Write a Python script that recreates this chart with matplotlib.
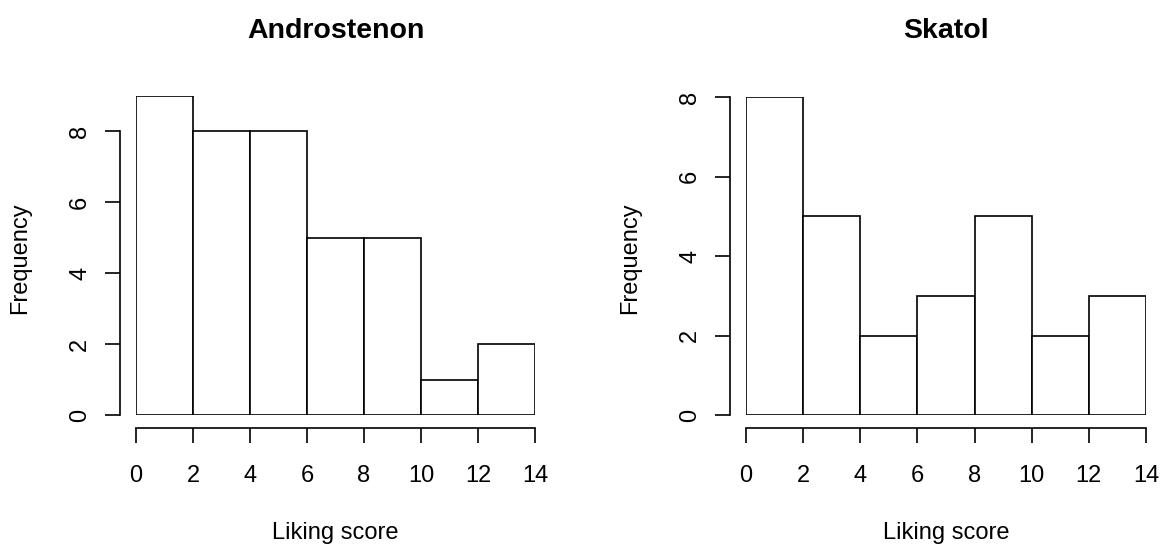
import numpy as np
import matplotlib.pyplot as plt

plt.rcParams['font.family'] = ['Liberation Sans', 'DejaVu Sans']

# histogram data
bins = [0, 2, 4, 6, 8, 10, 12, 14]
andro_counts = [9, 8, 8, 5, 5, 1, 2]
skatol_counts = [8, 5, 2, 3, 5, 2, 3]
titles = ['Androstenon', 'Skatol']
xticks = [0, 2, 4, 6, 8, 10, 12, 14]
yticks = [0, 2, 4, 6, 8]

W, H = 1162, 547
fig = plt.figure(figsize=(W / 100, H / 100), dpi=100)

def px_axes(x0, x1, ytop, ybot):
    return fig.add_axes([x0 / W, 1 - ybot / H, (x1 - x0) / W, (ybot - ytop) / H])

panels = [
    (px_axes(136, 535, 95.5, 415), andro_counts, 9, 136, 535),
    (px_axes(746, 1146, 97, 415), skatol_counts, 8, 746, 1146),
]

for (ax, counts, ymax, x0, x1), title in zip(panels, titles):
    edges = np.array(bins)
    ax.bar(edges[:-1], counts, width=np.diff(edges), align='edge',
           facecolor='white', edgecolor='black', linewidth=1.2)
    ax.set_xlim(bins[0], bins[-1])
    ax.set_ylim(0, ymax)
    for s in ['top', 'right']:
        ax.spines[s].set_visible(False)
    ax.spines['left'].set_position(('outward', 11.5))
    ax.spines['bottom'].set_position(('outward', 9.4))
    ax.spines['left'].set_bounds(0, 8)
    ax.spines['bottom'].set_bounds(0, 14)
    ax.spines['left'].set_linewidth(1.2)
    ax.spines['bottom'].set_linewidth(1.2)
    ax.set_xticks(xticks)
    ax.set_yticks(yticks)
    ax.tick_params(axis='both', length=10.8, width=1.2, labelsize=17, colors='black')
    ax.tick_params(axis='x', pad=15.5)
    ax.tick_params(axis='y', pad=10)
    for lab in ax.get_yticklabels():
        lab.set_rotation(90)
        lab.set_va('center')
    ax.patch.set_visible(False)
    cx = (x0 + x1) / 2
    fig.text(cx / W, 1 - 38 / H, title, ha='center', va='baseline',
             fontsize=20.5, fontweight='bold')
    fig.text(cx / W, 1 - 539 / H, 'Liking score', ha='center', va='baseline',
             fontsize=17)
    fig.text((x0 - 116) / W, 1 - 258 / H, 'Frequency', ha='center', va='center',
             rotation=90, fontsize=17)

fig.savefig('out.png', dpi=100)
